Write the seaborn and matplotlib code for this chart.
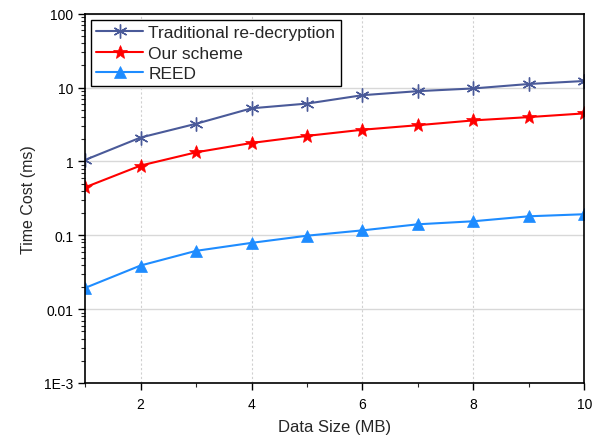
import matplotlib
matplotlib.use("Agg")
import matplotlib.pyplot as plt
import seaborn as sns
import pandas as pd
import numpy as np
from matplotlib.ticker import LogLocator, FixedLocator, NullFormatter, FuncFormatter

data_size = [1, 2, 3, 4, 5, 6, 7, 8, 9, 10]
traditional = [1.05, 2.11, 3.24, 5.25, 6.08, 7.9, 8.96, 9.75, 11.2, 12.3]
our_scheme = [0.447, 0.88, 1.33, 1.78, 2.22, 2.69, 3.1, 3.6, 3.99, 4.48]
reed = [0.0194, 0.039, 0.0616, 0.079, 0.0988, 0.1167, 0.141, 0.155, 0.181, 0.193]

series_names = ["Traditional re-decryption", "Our scheme", "REED"]
colors = ["#4A5A99", "#FF0000", "#1E8CFF"]
markers = [(6, 2, 0), "*", "^"]
marker_sizes = [10, 10, 8]

df = pd.concat([
    pd.DataFrame({"Data Size (MB)": data_size, "Time Cost (ms)": vals, "series": name})
    for name, vals in zip(series_names, [traditional, our_scheme, reed])
])

sns.set_theme(style="white")
plt.rcParams["font.family"] = ["Liberation Sans", "DejaVu Sans"]

fig = plt.figure(figsize=(6.08, 4.39), dpi=100)
ax = fig.add_axes([0.140, 0.1253, 0.821, 0.841])

for name, col, mk, ms in zip(series_names, colors, markers, marker_sizes):
    sub = df[df["series"] == name]
    sns.lineplot(data=sub, x="Data Size (MB)", y="Time Cost (ms)", ax=ax,
                 color=col, marker=mk, markersize=ms, linewidth=1.5,
                 markeredgecolor=col, markeredgewidth=1.0 if mk == (6, 2, 0) else 0.5,
                 label=name, zorder=3)

ax.set_yscale("log")
ax.set_ylim(1e-3, 100)
ax.set_xlim(1, 10)

ax.xaxis.set_major_locator(FixedLocator([2, 4, 6, 8, 10]))
ax.xaxis.set_minor_locator(FixedLocator([1, 3, 5, 7, 9]))
ax.yaxis.set_major_locator(LogLocator(base=10, numticks=10))
ax.yaxis.set_minor_locator(LogLocator(base=10, subs=np.arange(2, 10), numticks=20))
ax.yaxis.set_minor_formatter(NullFormatter())

def yfmt(v, pos):
    labels = {1e-3: "1E-3", 1e-2: "0.01", 1e-1: "0.1", 1: "1", 10: "10", 100: "100"}
    for k, s in labels.items():
        if abs(v - k) / k < 1e-6:
            return s
    return ""
ax.yaxis.set_major_formatter(FuncFormatter(yfmt))

ax.grid(True, axis="x", which="major", color="#D0D0D0", linestyle=(0, (2, 2)), linewidth=0.8)
ax.grid(True, axis="y", which="major", color="#D8D8D8", linestyle="-", linewidth=1.0)
ax.set_axisbelow(True)

for s in ax.spines.values():
    s.set_color("black")
    s.set_linewidth(1.2)
    s.set_visible(True)
    s.set_zorder(4)

ax.tick_params(axis="both", which="major", direction="out", length=5, width=1,
               labelsize=10, colors="black", left=True, bottom=True, right=False, top=False)
ax.tick_params(axis="both", which="minor", direction="out", length=3, width=0.8,
               left=True, bottom=True, right=False, top=False)
ax.tick_params(axis="x", pad=5)

ax.set_xlabel("Data Size (MB)", fontsize=12, labelpad=6)
ax.set_ylabel("Time Cost (ms)", fontsize=11.5, labelpad=6)

leg = ax.legend(loc="upper left", fontsize=12.5, frameon=True, fancybox=False,
                borderpad=0.3, handlelength=2.7, handletextpad=0.3,
                labelspacing=0.3, borderaxespad=0.35)
leg.get_frame().set_edgecolor("black")
leg.get_frame().set_linewidth(1.0)
leg.get_frame().set_alpha(1)
leg.set_zorder(5)

fig.savefig("out.png", dpi=100)
